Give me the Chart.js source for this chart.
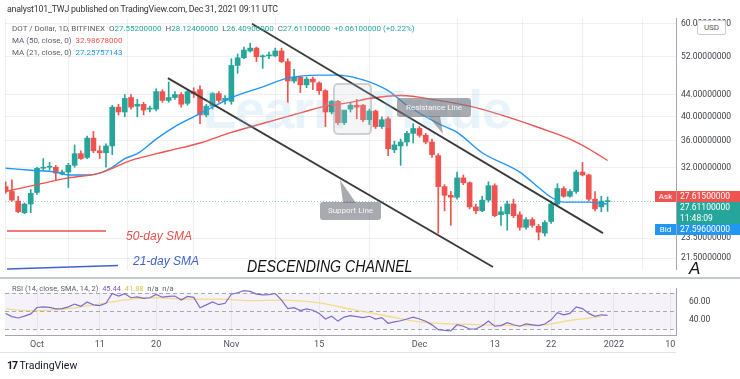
<!DOCTYPE html>
<html><head><meta charset="utf-8">
<script src="https://cdn.jsdelivr.net/npm/chart.js@4.4.1/dist/chart.umd.min.js"></script>
<style>
html,body{margin:0;padding:0;background:#fff;width:740px;height:379px;overflow:hidden;font-family:Roboto,'Liberation Sans',sans-serif;}
.abs{position:absolute;white-space:nowrap;line-height:1;}
canvas{position:absolute;}
.g{color:#5d606b}.t{color:#26a69a}
</style></head><body>
<canvas id="price" width="740" height="280" style="left:0px;top:0px"></canvas>
<canvas id="rsi" width="740" height="80" style="left:0px;top:278px"></canvas>

<!-- watermark -->
<div class="abs" style="left:203px;top:78px;font:bold 54px 'Liberation Sans',sans-serif;color:rgba(150,205,228,0.22);letter-spacing:-1px">Learn</div>
<div class="abs" style="left:333px;top:83px;width:35px;height:48px;border:2px solid rgba(120,124,132,0.3);border-radius:5px;background:rgba(200,204,210,0.2)"></div>
<div class="abs" style="left:372px;top:78px;font:bold 54px 'Liberation Sans',sans-serif;color:rgba(150,205,228,0.22);letter-spacing:-1px">Trade</div>

<div class="abs" style="left:7px;top:5px;font-size:8.8px;letter-spacing:-0.2px;color:#333">analyst101_TWJ published on TradingView.com, Dec 31, 2021 09:11 UTC</div>
<div class="abs" style="left:12px;top:25px;font-size:8px"><span class="g">DOT / Dollar, 1D, BITFINEX&nbsp; </span><span class="g">O</span><span class="t">27.55200000</span>&nbsp; <span class="g">H</span><span class="t">28.12400000</span>&nbsp; <span class="g">L</span><span class="t">26.40900000</span>&nbsp; <span class="g">C</span><span class="t">27.61100000</span>&nbsp; <span class="t">+0.06100000 (+0.22%)</span></div>
<div class="abs" style="left:12px;top:37px;font-size:8px"><span class="g">MA (50, close, 0)&nbsp; </span><span style="color:#ef5350">32.98678000</span></div>
<div class="abs" style="left:12px;top:49px;font-size:8px"><span class="g">MA (21, close, 0)&nbsp; </span><span style="color:#2196f3">27.25757143</span></div>

<!-- callouts -->
<svg class="abs" style="left:0;top:0" width="740" height="379">
  <polygon points="428,116 440,116 443,134" fill="rgba(110,114,124,0.6)"/>
  <polygon points="343,203 356,203 340,180" fill="rgba(110,114,124,0.6)"/>
  <line x1="7" y1="231" x2="106" y2="231" stroke="#e8504c" stroke-width="1.6"/>
  <line x1="7" y1="269" x2="118" y2="265.5" stroke="#3f62d0" stroke-width="1.6"/>
</svg>
<div class="abs" style="left:397px;top:98px;width:74px;height:19px;border-radius:3px;background:rgba(110,114,124,0.6);color:rgba(255,255,255,0.9);font-size:8px;text-align:center;line-height:19px">Resistance Line</div>
<div class="abs" style="left:320px;top:202px;width:61px;height:18px;border-radius:3px;background:rgba(110,114,124,0.6);color:rgba(255,255,255,0.9);font-size:8px;text-align:center;line-height:18px">Support Line</div>

<div class="abs" style="left:126px;top:229px;font:italic 12px 'Liberation Sans',sans-serif;color:#e8504c">50-day SMA</div>
<div class="abs" style="left:133px;top:254px;font:italic 12px 'Liberation Sans',sans-serif;color:#3f62d0">21-day SMA</div>
<div class="abs" style="left:247px;top:257px;font:italic 17px 'Liberation Sans',sans-serif;color:#111;transform:scaleX(0.83);transform-origin:0 0">DESCENDING CHANNEL</div>
<div class="abs" style="left:689px;top:259px;font:italic 17px 'Liberation Sans',sans-serif;color:#111">A</div>

<!-- axis tags -->
<div class="abs" style="left:697px;top:20px;width:27px;height:13px;border:1px solid #c9ccd3;border-radius:2px;background:#fff;font-size:8px;color:#555;text-align:center;line-height:13px">USD</div>
<div class="abs" style="left:655px;top:191px;width:21px;height:11px;background:#ef5350;color:#fff;font-size:8px;text-align:center;line-height:11px">Ask</div>
<div class="abs" style="left:677px;top:191px;width:63px;height:11px;background:#ef5350;color:#fff;font-size:8.5px;line-height:11px;padding-left:3px">27.61500000</div>
<div class="abs" style="left:677px;top:202px;width:63px;height:22px;background:#26a69a;color:#fff;font-size:8.5px;line-height:11px;padding-left:3px">27.61100000<br>11:48:09</div>
<div class="abs" style="left:655px;top:224px;width:21px;height:11px;background:#2196f3;color:#fff;font-size:8px;text-align:center;line-height:11px">Bid</div>
<div class="abs" style="left:677px;top:224px;width:63px;height:11px;background:#2196f3;color:#fff;font-size:8.5px;line-height:11px;padding-left:3px">27.59600000</div>

<div class="abs" style="left:0;top:277px;width:740px;height:2px;background:#c4c7cc"></div>
<div class="abs" style="left:0;top:352px;width:676px;height:1px;background:#e0e3eb"></div>
<div class="abs" style="left:12px;top:285px;font-size:7.5px"><span class="g">RSI (14, close, SMA, 14, 2)&nbsp; </span><span style="color:#7e57c2">45.44</span>&nbsp; <span style="color:#d9c24a">41.88</span>&nbsp; <span class="g">n/a&nbsp; n/a</span></div>
<div class="abs" style="left:7px;top:361px;font-size:10.5px;color:#131722"><b style="letter-spacing:-1px">17</b> TradingView</div>

<script>
// ---------- DATA ----------
const startDate = '2021-09-26';
const opens  = [29.43,28.81,27.62,26.25,27.27,28.69,31.89,32.03,32.03,31.09,31.36,32.30,33.99,33.42,36.38,34.42,34.13,35.16,41.66,40.79,43.46,41.84,42.19,41.31,41.31,44.59,42.91,43.46,44.03,42.37,44.59,44.97,40.27,41.84,44.21,42.91,42.73,50.00,51.71,53.27,53.95,51.93,52.15,52.15,53.27,50.85,46.71,47.52,45.93,47.11,46.32,44.78,40.79,42.73,38.93,41.31,42.01,42.01,39.43,40.96,38.27,39.59,34.57,35.16,35.77,37.15,37.95,36.84,35.77,33.70,29.43,28.33,28.09,30.57,29.93,26.93,26.47,27.74,29.55,26.02,26.13,27.27,26.02,24.63,25.47,24.73,24.01,25.26,27.27,29.18,28.21,28.81,31.36,30.96,27.85,26.93,27.552];
const highs  = [30.06,30.31,28.21,27.39,29.06,32.03,33.27,32.72,32.30,31.62,32.58,35.32,34.42,36.69,37.47,35.16,35.47,42.01,42.19,44.03,44.03,43.09,42.55,41.84,45.16,44.97,46.52,44.59,44.40,44.97,45.35,45.74,42.19,44.40,44.59,43.84,51.50,52.60,54.19,55.11,54.19,52.37,53.04,53.95,53.95,51.50,49.15,47.72,47.52,47.52,46.52,44.97,42.91,42.91,40.79,42.55,43.09,42.19,41.31,41.13,39.93,39.93,35.92,36.23,37.47,38.76,38.27,37.15,36.23,33.99,29.68,28.81,31.36,30.96,30.06,27.27,28.21,30.06,29.80,26.93,27.62,27.85,26.36,25.69,25.69,24.94,25.36,27.62,29.80,29.43,29.06,31.62,32.72,31.09,28.81,28.21,28.124];
const lows   = [28.57,27.62,26.25,26.13,26.25,28.45,31.62,31.62,30.31,30.96,29.31,32.03,33.13,33.27,34.13,33.27,32.03,33.85,40.27,39.93,41.31,39.93,40.27,40.79,40.96,42.55,42.55,43.09,41.66,42.01,43.46,38.76,39.93,41.31,42.55,42.19,42.19,48.33,51.50,53.04,50.85,49.36,51.50,51.93,50.63,42.55,46.32,44.40,45.35,44.97,44.03,38.27,40.44,38.60,38.60,40.79,39.59,39.09,38.60,37.95,37.95,33.70,34.13,32.30,35.16,35.62,36.54,35.47,33.42,24.01,26.47,24.84,27.85,29.68,26.70,26.13,26.36,27.50,25.80,24.84,24.32,25.69,24.32,24.42,24.63,23.31,23.71,25.05,27.04,28.09,28.09,28.57,30.83,27.62,26.47,26.36,26.409];
const closes = [28.94,27.74,26.36,27.27,28.57,31.89,32.03,32.16,31.22,31.36,32.30,33.99,33.27,36.38,34.42,34.13,35.16,41.66,40.79,43.28,41.66,42.19,41.13,41.48,44.59,42.91,43.46,44.03,42.19,44.59,44.21,40.27,41.84,44.21,42.91,43.28,50.00,51.71,53.49,53.95,51.93,52.15,52.37,53.27,50.85,46.71,47.52,45.93,47.11,46.52,44.78,40.79,42.73,38.93,41.13,42.01,41.66,39.43,40.96,38.27,39.43,34.72,35.32,35.77,37.15,37.95,36.84,35.77,33.85,29.43,28.33,28.09,30.57,29.93,26.93,26.47,27.74,29.55,25.91,26.36,27.27,25.91,24.63,25.47,24.84,24.11,25.15,27.27,29.18,28.21,28.81,31.36,30.96,27.85,26.70,27.62,27.611];

const ma50Dates  = ['2021-09-26','2021-10-01','2021-10-06','2021-10-11','2021-10-16','2021-10-22','2021-10-27','2021-11-01','2021-11-07','2021-11-12','2021-11-16','2021-11-20','2021-11-23','2021-11-28','2021-12-04','2021-12-09','2021-12-14','2021-12-20','2021-12-25','2021-12-28','2021-12-31'];
const ma50Values = [28.81,29.68,30.57,31.22,33.0,34.42,35.62,37.31,39.09,40.62,41.84,42.55,43.28,43.84,42.91,41.84,40.27,38.11,36.23,34.72,32.99];
const ma21Dates  = ['2021-09-26','2021-09-30','2021-10-04','2021-10-06','2021-10-09','2021-10-11','2021-10-13','2021-10-15','2021-10-17','2021-10-20','2021-10-23','2021-10-26','2021-10-29','2021-11-01','2021-11-06','2021-11-10','2021-11-15','2021-11-18','2021-11-21','2021-11-23','2021-11-26','2021-11-29','2021-12-04','2021-12-07','2021-12-11','2021-12-17','2021-12-20','2021-12-22','2021-12-24','2021-12-28','2021-12-31'];
const ma21Values = [31.89,31.62,31.36,30.96,30.96,31.22,32.03,33.27,33.99,36.23,38.27,39.93,41.66,43.46,45.54,47.31,47.92,47.92,47.31,46.52,44.78,42.01,38.76,37.31,34.13,31.36,29.31,28.09,27.50,27.50,27.26];

const rsiValues = [47.5,44,42.5,44.5,47, 54,54.6,54,52.5,52.8, 54.6,57.7,55.3,60,56.8, 56,58.5,69.2,66.5,69, 64.6,65.5,64,64.6,68.3, 65.2,66,66.5,62,66.1, 65,53.7,56.8,60,57, 58.5,68.5,70,72.3,71.5, 68.5,67.7,68,69.2,62, 52.8,53.7,50.6,52.5,51, 47.5,41.4,44.4,39.1,43.5, 45,44,42.9,44.4,41.4, 42.9,36.7,38.2,39.5,41.4, 43.5,41.4,39,35,29.8, 28.9,28.5,35.1,33.5,30.5, 30.5,34,39.1,33.5,34.2, 37.3,35.1,33.5,36,35.1, 34.2,36,40.5,48.4,46, 47.5,54.6,52.8,47.5,44.4, 46,45.44];
const rsiSmaDates  = ['2021-09-26','2021-09-30','2021-10-06','2021-10-11','2021-10-16','2021-10-20','2021-10-25','2021-10-30','2021-11-04','2021-11-09','2021-11-15','2021-11-20','2021-11-26','2021-12-01','2021-12-06','2021-12-12','2021-12-17','2021-12-21','2021-12-23','2021-12-25','2021-12-28','2021-12-30'];
const rsiSmaValues = [52.2,50.6,52.8,57.7,63,64.6,63,63,61.5,62,59,52.2,44.4,38.2,36,35.1,34.2,35,37.3,39.8,42.3,44.4];

const channelUpperDates  = ['2021-11-04T07:00','2021-12-30T06:30'];
const channelUpperPrices = [60.0, 24.01];
const channelLowerDates  = ['2021-10-21T21:00','2021-12-12T17:30'];
const channelLowerPrices = [47.31, 20.70];

const priceTicks = [21.5, 23.5, 32, 36, 40, 44, 52, 60];
const rsiTicks = [40, 60];
const rsiLevels = [70, 50, 30];
const tickDates  = ['2021-10-01','2021-10-11','2021-10-20','2021-11-01','2021-11-15','2021-12-01','2021-12-13','2021-12-22','2022-01-01','2022-01-10'];
const tickLabels = ['Oct','11','20','Nov','15','Dec','13','22','2022','10'];
const viewStart = '2021-09-25T21:30', viewEnd = '2022-01-10T22:00';
const priceMin = 20.44, priceMax = 61.54;
const rsiMin = 23.95, rsiMax = 75.12;

// ---------- HELPERS ----------
const REF = Date.parse('2021-10-01T00:00Z');
const dayOf = s => (Date.parse(s.length <= 10 ? s + 'T00:00Z' : s + 'Z') - REF) / 864e5;
const d0 = dayOf(startDate);
const days = closes.map((_, i) => d0 + i);
const tickDays = tickDates.map(dayOf);
const GREEN = '#26a69a', RED = '#ef5350';
const candleColors = closes.map((c, i) => c >= opens[i] ? GREEN : RED);
const pts = (ds, vs) => ds.map((d, i) => ({x: dayOf(d), y: vs[i]}));
const xMin = dayOf(viewStart), xMax = dayOf(viewEnd);
const gridColor = 'rgba(42,46,57,0.07)';
const axisColor = '#a3a6ad';
Chart.defaults.font.family = "Roboto, 'Liberation Sans', sans-serif";
Chart.defaults.animation = false;

const priceLinePlugin = {
  id: 'priceLine',
  beforeDatasetsDraw(chart) {
    const {ctx, chartArea: a, scales: {y}} = chart;
    const py = Math.round(y.getPixelForValue(closes[closes.length - 1])) + 0.5;
    ctx.save(); ctx.strokeStyle = 'rgba(38,166,154,0.55)'; ctx.setLineDash([1, 2]); ctx.lineWidth = 1;
    ctx.beginPath(); ctx.moveTo(a.left, py); ctx.lineTo(a.right, py); ctx.stroke(); ctx.restore();
  }
};

new Chart(document.getElementById('price'), {
  type: 'bar',
  data: {
    datasets: [
      {type: 'line', data: pts(channelUpperDates, channelUpperPrices), borderColor: '#3a3a3a', borderWidth: 1.8, pointRadius: 0, order: 0},
      {type: 'line', data: pts(channelLowerDates, channelLowerPrices), borderColor: '#3a3a3a', borderWidth: 1.8, pointRadius: 0, order: 0},
      {type: 'line', data: pts(ma50Dates, ma50Values), borderColor: '#ef5350', borderWidth: 1.4, pointRadius: 0, cubicInterpolationMode: 'monotone', order: 1},
      {type: 'line', data: pts(ma21Dates, ma21Values), borderColor: '#2196f3', borderWidth: 1.4, pointRadius: 0, cubicInterpolationMode: 'monotone', order: 1},
      {data: days.map((d, i) => ({x: d, y: [opens[i], closes[i]]})), backgroundColor: candleColors, barThickness: 5, minBarLength: 1, grouped: false, order: 2},
      {data: days.map((d, i) => ({x: d, y: [lows[i], highs[i]]})), backgroundColor: candleColors, barThickness: 1, grouped: false, order: 3}
    ]
  },
  options: {
    responsive: false, animation: false, devicePixelRatio: 1,
    layout: {padding: {left: 5, top: 18, right: 0, bottom: 0}},
    plugins: {legend: {display: false}, tooltip: {enabled: false}},
    scales: {
      x: {type: 'linear', min: xMin, max: xMax, offset: false,
          afterBuildTicks: s => { s.ticks = tickDays.map(v => ({value: v})); },
          afterFit: s => { s.height = 2; },
          ticks: {display: false}, grid: {color: gridColor, drawTicks: false}, border: {display: false}},
      y: {type: 'logarithmic', position: 'right', min: priceMin, max: priceMax,
          afterBuildTicks: s => { s.ticks = priceTicks.map(v => ({value: v})); },
          afterFit: s => { s.width = 64; },
          ticks: {autoSkip: false, padding: 5, color: '#3b3e46', font: {size: 8.5}, callback: v => Number(v).toFixed(8)},
          grid: {color: gridColor, drawTicks: false}, border: {display: true, color: axisColor}}
    }
  },
  plugins: [priceLinePlugin]
});

const rsiBandPlugin = {
  id: 'rsiBand',
  beforeDatasetsDraw(chart) {
    const {ctx, chartArea: a, scales: {y}} = chart;
    const t = y.getPixelForValue(rsiLevels[0]), b = y.getPixelForValue(rsiLevels[2]);
    ctx.save();
    ctx.fillStyle = 'rgba(126,87,194,0.08)'; ctx.fillRect(a.left, t, a.right - a.left, b - t);
    ctx.strokeStyle = '#a6a9b1'; ctx.setLineDash([4, 3]); ctx.lineWidth = 1;
    rsiLevels.forEach(v => { const py = Math.round(y.getPixelForValue(v)) + 0.5; ctx.beginPath(); ctx.moveTo(a.left, py); ctx.lineTo(a.right, py); ctx.stroke(); });
    ctx.restore();
  }
};

new Chart(document.getElementById('rsi'), {
  type: 'line',
  data: {
    datasets: [
      {data: days.map((d, i) => ({x: d, y: rsiValues[i]})), borderColor: '#7e6bc9', borderWidth: 1.2, pointRadius: 0, order: 0},
      {data: pts(rsiSmaDates, rsiSmaValues), borderColor: 'rgba(240,215,110,0.8)', borderWidth: 1.3, pointRadius: 0, cubicInterpolationMode: 'monotone', order: 1}
    ]
  },
  options: {
    responsive: false, animation: false, devicePixelRatio: 1,
    layout: {padding: {left: 5, top: 2, right: 0, bottom: 0}},
    plugins: {legend: {display: false}, tooltip: {enabled: false}},
    scales: {
      x: {type: 'linear', min: xMin, max: xMax, offset: false,
          afterBuildTicks: s => { s.ticks = tickDays.map(v => ({value: v})); },
          afterFit: s => { s.height = 23; },
          ticks: {autoSkip: false, maxRotation: 0, padding: 4, color: '#50535e', font: {size: 9},
                  callback: (v) => { const k = tickDays.indexOf(v); return k >= 0 ? tickLabels[k] : ''; }},
          grid: {color: gridColor, drawTicks: false}, border: {display: true, color: axisColor}},
      y: {type: 'linear', position: 'right', min: rsiMin, max: rsiMax,
          afterBuildTicks: s => { s.ticks = rsiTicks.map(v => ({value: v})); },
          afterFit: s => { s.width = 64; },
          ticks: {autoSkip: false, padding: 5, color: '#3b3e46', font: {size: 8.5}, callback: v => Number(v).toFixed(2)},
          grid: {display: false}, border: {display: true, color: axisColor}}
    }
  },
  plugins: [rsiBandPlugin]
});
</script>
</body></html>
